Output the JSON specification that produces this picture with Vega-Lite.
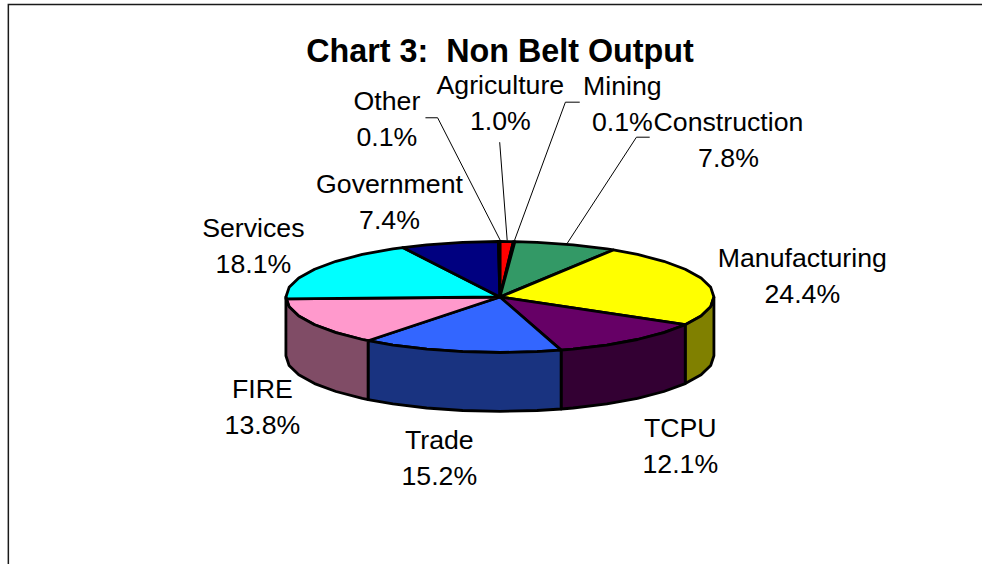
{
"$schema":"https://vega.github.io/schema/vega-lite/v6.json",
"width":982,"height":564,"padding":0,"autosize":{"type":"none"},
"background":"white",
"view":{"stroke":null},
"title":{"text":"Chart 3:\u00a0 Non Belt Output","font":"Liberation Sans","fontSize":32.3,"fontWeight":"bold","color":"black","anchor":"middle","frame":"group","baseline":"alphabetic","offset":-62,"dx":9,"dy":32},
"config":{"axis":{"domain":false,"ticks":false,"labels":false,"grid":false,"title":null}},
"datasets":{
"poly":[
{"part":"Agriculture","i":0,"u":0,"v":0},{"part":"Agriculture","i":1,"u":0,"v":1},{"part":"Agriculture","i":2,"u":0.063,"v":0.998},{"part":"Agriculture","i":3,"u":0,"v":0},
{"part":"Mining","i":0,"u":0,"v":0},{"part":"Mining","i":1,"u":0.063,"v":0.998},{"part":"Mining","i":2,"u":0.07,"v":0.998},{"part":"Mining","i":3,"u":0,"v":0},
{"part":"Construction","i":0,"u":0,"v":0},{"part":"Construction","i":1,"u":0.07,"v":0.998},{"part":"Construction","i":2,"u":0.174,"v":0.985},{"part":"Construction","i":3,"u":0.342,"v":0.94},{"part":"Construction","i":4,"u":0.5,"v":0.866},{"part":"Construction","i":5,"u":0.53,"v":0.848},{"part":"Construction","i":6,"u":0,"v":0},
{"part":"Manufacturing","i":0,"u":0,"v":0},{"part":"Manufacturing","i":1,"u":0.53,"v":0.848},{"part":"Manufacturing","i":2,"u":0.643,"v":0.766},{"part":"Manufacturing","i":3,"u":0.766,"v":0.643},{"part":"Manufacturing","i":4,"u":0.866,"v":0.5},{"part":"Manufacturing","i":5,"u":0.94,"v":0.342},{"part":"Manufacturing","i":6,"u":0.985,"v":0.174},{"part":"Manufacturing","i":7,"u":1,"v":0},{"part":"Manufacturing","i":8,"u":0.985,"v":-0.174},{"part":"Manufacturing","i":9,"u":0.94,"v":-0.342},{"part":"Manufacturing","i":10,"u":0.866,"v":-0.5},{"part":"Manufacturing","i":11,"u":0,"v":0},
{"part":"TCPU","i":0,"u":0,"v":0},{"part":"TCPU","i":1,"u":0.866,"v":-0.5},{"part":"TCPU","i":2,"u":0.766,"v":-0.643},{"part":"TCPU","i":3,"u":0.643,"v":-0.766},{"part":"TCPU","i":4,"u":0.5,"v":-0.866},{"part":"TCPU","i":5,"u":0.342,"v":-0.94},{"part":"TCPU","i":6,"u":0.286,"v":-0.958},{"part":"TCPU","i":7,"u":0,"v":0},
{"part":"Trade","i":0,"u":0,"v":0},{"part":"Trade","i":1,"u":0.286,"v":-0.958},{"part":"Trade","i":2,"u":0.174,"v":-0.985},{"part":"Trade","i":3,"u":0,"v":-1},{"part":"Trade","i":4,"u":-0.174,"v":-0.985},{"part":"Trade","i":5,"u":-0.342,"v":-0.94},{"part":"Trade","i":6,"u":-0.5,"v":-0.866},{"part":"Trade","i":7,"u":-0.616,"v":-0.788},{"part":"Trade","i":8,"u":0,"v":0},
{"part":"FIRE","i":0,"u":0,"v":0},{"part":"FIRE","i":1,"u":-0.616,"v":-0.788},{"part":"FIRE","i":2,"u":-0.643,"v":-0.766},{"part":"FIRE","i":3,"u":-0.766,"v":-0.643},{"part":"FIRE","i":4,"u":-0.866,"v":-0.5},{"part":"FIRE","i":5,"u":-0.94,"v":-0.342},{"part":"FIRE","i":6,"u":-0.985,"v":-0.174},{"part":"FIRE","i":7,"u":-0.999,"v":-0.035},{"part":"FIRE","i":8,"u":0,"v":0},
{"part":"Services","i":0,"u":0,"v":0},{"part":"Services","i":1,"u":-0.999,"v":-0.035},{"part":"Services","i":2,"u":-1,"v":0},{"part":"Services","i":3,"u":-0.985,"v":0.174},{"part":"Services","i":4,"u":-0.94,"v":0.342},{"part":"Services","i":5,"u":-0.866,"v":0.5},{"part":"Services","i":6,"u":-0.766,"v":0.643},{"part":"Services","i":7,"u":-0.643,"v":0.766},{"part":"Services","i":8,"u":-0.5,"v":0.866},{"part":"Services","i":9,"u":-0.454,"v":0.891},{"part":"Services","i":10,"u":0,"v":0},
{"part":"Government","i":0,"u":0,"v":0},{"part":"Government","i":1,"u":-0.454,"v":0.891},{"part":"Government","i":2,"u":-0.342,"v":0.94},{"part":"Government","i":3,"u":-0.174,"v":0.985},{"part":"Government","i":4,"u":-0.007,"v":1},{"part":"Government","i":5,"u":0,"v":0},
{"part":"Other","i":0,"u":0,"v":0},{"part":"Other","i":1,"u":-0.007,"v":1},{"part":"Other","i":2,"u":0,"v":1},{"part":"Other","i":3,"u":0,"v":0},
{"part":"Manufacturing side","i":0,"u":1,"v":0},{"part":"Manufacturing side","i":1,"u":0.985,"v":-0.174},{"part":"Manufacturing side","i":2,"u":0.94,"v":-0.342},{"part":"Manufacturing side","i":3,"u":0.866,"v":-0.5},{"part":"Manufacturing side","i":4,"u":0.866,"v":-1.56},{"part":"Manufacturing side","i":5,"u":0.94,"v":-1.402},{"part":"Manufacturing side","i":6,"u":0.985,"v":-1.234},{"part":"Manufacturing side","i":7,"u":1,"v":-1.06},{"part":"Manufacturing side","i":8,"u":1,"v":0},
{"part":"TCPU side","i":0,"u":0.866,"v":-0.5},{"part":"TCPU side","i":1,"u":0.766,"v":-0.643},{"part":"TCPU side","i":2,"u":0.643,"v":-0.766},{"part":"TCPU side","i":3,"u":0.5,"v":-0.866},{"part":"TCPU side","i":4,"u":0.342,"v":-0.94},{"part":"TCPU side","i":5,"u":0.286,"v":-0.958},{"part":"TCPU side","i":6,"u":0.286,"v":-2.018},{"part":"TCPU side","i":7,"u":0.342,"v":-2.0},{"part":"TCPU side","i":8,"u":0.5,"v":-1.926},{"part":"TCPU side","i":9,"u":0.643,"v":-1.826},{"part":"TCPU side","i":10,"u":0.766,"v":-1.703},{"part":"TCPU side","i":11,"u":0.866,"v":-1.56},{"part":"TCPU side","i":12,"u":0.866,"v":-0.5},
{"part":"Trade side","i":0,"u":0.286,"v":-0.958},{"part":"Trade side","i":1,"u":0.174,"v":-0.985},{"part":"Trade side","i":2,"u":0,"v":-1},{"part":"Trade side","i":3,"u":-0.174,"v":-0.985},{"part":"Trade side","i":4,"u":-0.342,"v":-0.94},{"part":"Trade side","i":5,"u":-0.5,"v":-0.866},{"part":"Trade side","i":6,"u":-0.616,"v":-0.788},{"part":"Trade side","i":7,"u":-0.616,"v":-1.848},{"part":"Trade side","i":8,"u":-0.5,"v":-1.926},{"part":"Trade side","i":9,"u":-0.342,"v":-2.0},{"part":"Trade side","i":10,"u":-0.174,"v":-2.045},{"part":"Trade side","i":11,"u":0,"v":-2.06},{"part":"Trade side","i":12,"u":0.174,"v":-2.045},{"part":"Trade side","i":13,"u":0.286,"v":-2.018},{"part":"Trade side","i":14,"u":0.286,"v":-0.958},
{"part":"FIRE side","i":0,"u":-0.616,"v":-0.788},{"part":"FIRE side","i":1,"u":-0.643,"v":-0.766},{"part":"FIRE side","i":2,"u":-0.766,"v":-0.643},{"part":"FIRE side","i":3,"u":-0.866,"v":-0.5},{"part":"FIRE side","i":4,"u":-0.94,"v":-0.342},{"part":"FIRE side","i":5,"u":-0.985,"v":-0.174},{"part":"FIRE side","i":6,"u":-1,"v":0},{"part":"FIRE side","i":7,"u":-1,"v":-1.06},{"part":"FIRE side","i":8,"u":-0.985,"v":-1.234},{"part":"FIRE side","i":9,"u":-0.94,"v":-1.402},{"part":"FIRE side","i":10,"u":-0.866,"v":-1.56},{"part":"FIRE side","i":11,"u":-0.766,"v":-1.703},{"part":"FIRE side","i":12,"u":-0.643,"v":-1.826},{"part":"FIRE side","i":13,"u":-0.616,"v":-1.848},{"part":"FIRE side","i":14,"u":-0.616,"v":-0.788}
],
"leaders":[
{"to":"Other","i":0,"u":-0.348,"v":3.229},{"to":"Other","i":1,"u":-0.291,"v":3.229},{"to":"Other","i":2,"u":0.002,"v":1.018},
{"to":"Agriculture","i":0,"u":-0.001,"v":2.789},{"to":"Agriculture","i":1,"u":0.034,"v":1.018},
{"to":"Mining","i":0,"u":0.373,"v":3.51},{"to":"Mining","i":1,"u":0.306,"v":3.51},{"to":"Mining","i":2,"u":0.068,"v":1.018},
{"to":"Construction","i":0,"u":0.7,"v":2.879},{"to":"Construction","i":1,"u":0.638,"v":2.879},{"to":"Construction","i":2,"u":0.314,"v":0.964}
],
"labels":[
{"label":"Agriculture\n1.0%","u":0.002,"v":3.495},
{"label":"Mining\n0.1%","u":0.572,"v":3.477},
{"label":"Other\n0.1%","u":-0.528,"v":3.189},
{"label":"Construction\n7.8%","u":1.068,"v":2.82},
{"label":"Government\n7.4%","u":-0.516,"v":1.703},
{"label":"Services\n18.1%","u":-1.152,"v":0.91},
{"label":"Manufacturing\n24.4%","u":1.413,"v":0.369},
{"label":"FIRE\n13.8%","u":-1.11,"v":-1.991},
{"label":"Trade\n15.2%","u":-0.283,"v":-2.91},
{"label":"TCPU\n12.1%","u":0.843,"v":-2.694}
],
"frame":[{"u":-2.297,"v":5.27,"u2":3,"v2":-6}]
},
"layer":[
{"data":{"name":"frame"},
 "mark":{"type":"rect","fillOpacity":0,"stroke":"#1a1a1a","strokeWidth":1.5,"clip":true},
 "encoding":{
  "x":{"field":"u","type":"quantitative","scale":{"domain":[-2.336,2.2527],"nice":false,"zero":false},"axis":null},
  "x2":{"field":"u2"},
  "y":{"field":"v","type":"quantitative","scale":{"domain":[-4.811,5.351],"nice":false,"zero":false},"axis":null},
  "y2":{"field":"v2"}}},
{"data":{"name":"poly"},
 "mark":{"type":"line","stroke":"black","strokeWidth":2.8,"strokeJoin":"round","filled":true,"interpolate":"linear"},
 "encoding":{
  "x":{"field":"u","type":"quantitative","axis":null},
  "y":{"field":"v","type":"quantitative","axis":null},
  "order":{"field":"i","type":"quantitative"},
  "detail":{"field":"part"},
  "fill":{"field":"part","type":"nominal","legend":null,"scale":{
    "domain":["Agriculture","Mining","Construction","Manufacturing","TCPU","Trade","FIRE","Services","Government","Other","Manufacturing side","TCPU side","Trade side","FIRE side"],
    "range":["#FF0000","#000000","#339966","#FFFF00","#660066","#3366FF","#FF99CC","#00FFFF","#000080","#000000","#808000","#330033","#193380","#804C66"]}},
  "stroke":{"value":"black"}}},
{"data":{"name":"leaders"},
 "mark":{"type":"line","stroke":"black","strokeWidth":1},
 "encoding":{
  "x":{"field":"u","type":"quantitative","axis":null},
  "y":{"field":"v","type":"quantitative","axis":null},
  "order":{"field":"i","type":"quantitative"},
  "detail":{"field":"to"}}},
{"data":{"name":"labels"},
 "mark":{"type":"text","font":"Liberation Sans","fontSize":26.7,"color":"black","lineBreak":"\n","lineHeight":36,"align":"center","baseline":"middle","dy":-17.5},
 "encoding":{
  "x":{"field":"u","type":"quantitative","axis":null},
  "y":{"field":"v","type":"quantitative","axis":null},
  "text":{"field":"label"}}}
]
}
